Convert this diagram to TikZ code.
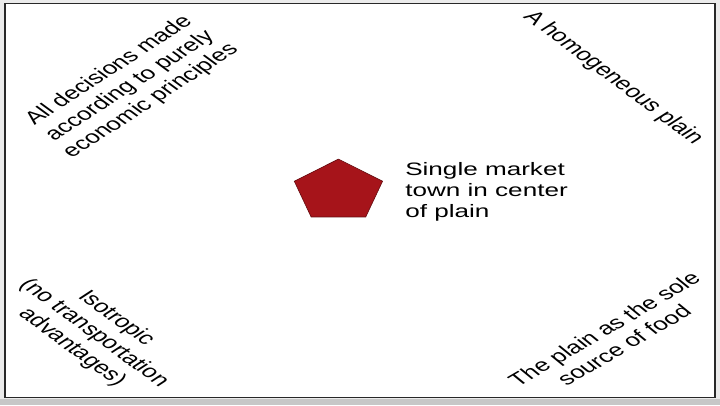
\documentclass[tikz,border=0pt]{standalone}
\usepackage{fontspec}
\setmainfont{Liberation Sans}
\usetikzlibrary{shapes.geometric}
\definecolor{townred}{RGB}{166,20,26}
\definecolor{framegray}{RGB}{40,40,40}
\begin{document}
\begin{tikzpicture}[x=1pt,y=-1pt,
    assumption/.style={transform shape,inner sep=0pt,align=center,
      font=\fontsize{18}{21}\selectfont},
    town/.style={transform shape,regular polygon,regular polygon sides=5,
      minimum size=64pt,inner sep=0pt,fill=townred,draw=townred!60!black,line width=0.6pt}]
    \useasboundingbox (0,0) rectangle (720,405);
    % page and frame
    \fill[black!8] (0,0) rectangle (720,405);
    \fill[black!22] (0,399) rectangle (720,405);
    \fill[white] (5,3.5) rectangle (715,397.5);
    \draw[framegray,line width=1.6pt] (5,3.5) rectangle (715,397.5);
    % the picture was stretched sideways
    \begin{scope}[xscale=1.45]
        \node[town] (market) at (233.4,191.1) {};
        \node[assumption,anchor=base west,align=left] (label) at (279.3,217)
            {Single market\\town in center\\of plain};
        \node[assumption,rotate=43.2] (econ) at (89.7,86)
            {All decisions made\\according to purely\\economic principles};
        \node[assumption,rotate=-47.4] (plain) at (422.8,78)
            {A homogeneous plain};
        \node[assumption,rotate=-46.5] (iso) at (64.8,333)
            {Isotropic\\(no transportation\\advantages)};
        \node[assumption,rotate=40.2] (food) at (423.4,337)
            {The plain as the sole\\source of food};
    \end{scope}
\end{tikzpicture}
\end{document}
